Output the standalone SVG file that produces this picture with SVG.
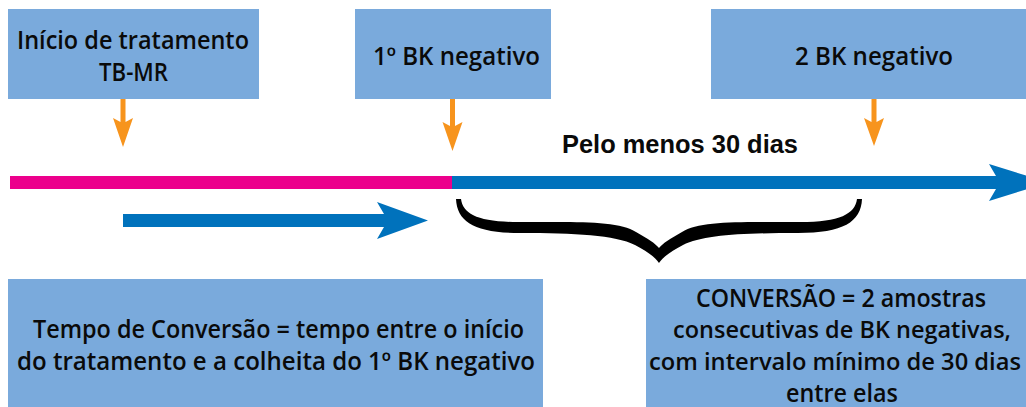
<svg xmlns="http://www.w3.org/2000/svg" width="1026" height="407" viewBox="0 0 1026 407">
  <style>
    .box { fill: #7AAADC; }
    .lbl { font-family: "Open Sans", "Liberation Sans", Arial, sans-serif; font-weight: 600; font-size: 25px; fill: #0a0a0a; text-anchor: middle; }
    .narrow { font-size: 23px; }
    .bold { font-family: "Liberation Sans", Arial, sans-serif; font-weight: bold; font-size: 25px; }
    .orange { fill: #F7941D; }
    .blue { fill: #0072BC; }
    .pink { fill: #EC008C; }
    .brace { fill: #000; }
  </style>
  <rect width="1026" height="407" fill="#fff"/>

  <g id="node-inicio">
    <rect class="box" x="8" y="9" width="251" height="90"/>
    <text class="lbl" x="133" y="49" textLength="232" lengthAdjust="spacingAndGlyphs">Início de tratamento</text>
    <text class="lbl" x="133.5" y="81" textLength="69" lengthAdjust="spacingAndGlyphs">TB-MR</text>
  </g>

  <g id="node-bk1">
    <rect class="box" x="355" y="9" width="196" height="90"/>
    <text class="lbl" x="456.5" y="65" textLength="167" lengthAdjust="spacingAndGlyphs">1º BK negativo</text>
  </g>

  <g id="node-bk2">
    <rect class="box" x="711" y="9" width="315" height="90"/>
    <text class="lbl" x="874" y="65" textLength="158" lengthAdjust="spacingAndGlyphs">2 BK negativo</text>
  </g>

  <g id="node-tempo">
    <rect class="box" x="8" y="279" width="535" height="128"/>
    <text class="lbl" x="278.5" y="338" textLength="491" lengthAdjust="spacingAndGlyphs">Tempo de Conversão = tempo entre o início</text>
    <text class="lbl" x="276" y="370" textLength="518" lengthAdjust="spacingAndGlyphs">do tratamento e a colheita do 1º BK negativo</text>
  </g>

  <g id="node-conversao">
    <rect class="box" x="646" y="279" width="380" height="128"/>
    <text class="lbl" x="841" y="307" textLength="290" lengthAdjust="spacingAndGlyphs">CONVERSÃO = 2 amostras</text>
    <text class="lbl narrow" x="842" y="338" textLength="338" lengthAdjust="spacingAndGlyphs">consecutivas de BK negativas,</text>
    <text class="lbl narrow" x="835" y="370" textLength="372" lengthAdjust="spacingAndGlyphs">com intervalo mínimo de 30 dias</text>
    <text class="lbl" x="842" y="402" textLength="112" lengthAdjust="spacingAndGlyphs">entre elas</text>
  </g>

  <g id="label-30dias">
    <text class="lbl bold" x="680" y="153" textLength="236" lengthAdjust="spacingAndGlyphs">Pelo menos 30 dias</text>
  </g>

  <g id="connectors">
    <!-- orange arrows from boxes to timeline -->
    <path class="orange" d="M120.5,99 H125.5 V122 L133,118 L123,147 L113,118 L120.5,122 Z"/>
    <path class="orange" d="M450,99 H455 V126 L462.5,122 L452.5,151 L442.5,122 L450,126 Z"/>
    <path class="orange" d="M871.5,99 H876.5 V122 L884,118 L874,146 L864,118 L871.5,122 Z"/>

    <!-- timeline -->
    <rect class="pink" x="10" y="176" width="443" height="13"/>
    <path class="blue" d="M452,176 H996 L989,164 L1048,182.5 L989,201 L996,189 H452 Z"/>

    <!-- conversion time arrow -->
    <path class="blue" d="M123,214 H384 L377,202 L428,220.5 L377,239 L384,227 H123 Z"/>

    <!-- brace -->
    <path class="brace" d="M456,199
      C457,222 475,233 520,233
      C575,233 615,235 635,245
      C648,252 655,257 659,263
      C663,257 670,252 683,245
      C703,235 743,233 798,233
      C843,233 861,222 862,199
      L857,199
      C855,214 840,222 800,222
      C745,222 700,220 682,232
      C670,239 663,243 659,248
      C655,243 648,239 636,232
      C618,220 573,222 518,222
      C478,222 463,214 461,199 Z"/>
  </g>
</svg>
